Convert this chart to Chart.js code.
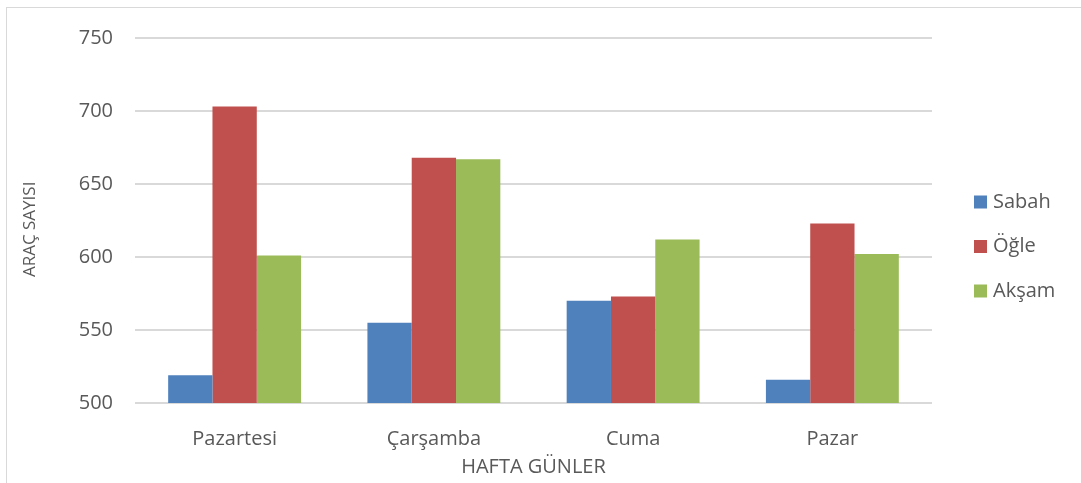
<!DOCTYPE html>
<html>
<head>
<meta charset="utf-8">
<script src="https://cdn.jsdelivr.net/npm/chart.js@4/dist/chart.umd.min.js"></script>
<style>
  html, body { margin: 0; padding: 0; background: #fff; }
  #wrap { position: relative; width: 1081px; height: 483px; overflow: hidden; }
  #frame { position: absolute; left: 6px; top: 7px; width: 1100px; height: 500px; border: 1px solid #d9d9d9; box-sizing: border-box; }
  canvas { position: absolute; left: 0; top: 0; }
</style>
</head>
<body>
<div id="wrap">
  <div id="frame"></div>
  <canvas id="c" width="1081" height="483"></canvas>
</div>
<script>
// Günlere göre araç sayıları
const gunler = ['Pazartesi', 'Çarşamba', 'Cuma', 'Pazar'];
const sabah = [519, 555, 570, 516];
const ogle = [703, 668, 573, 623];
const aksam = [601, 667, 612, 602];
const seriAdlari = ['Sabah', 'Öğle', 'Akşam'];
const renkler = ['#4F81BD', '#C0504D', '#9BBB59'];

const FONT = "'Open Sans', 'DejaVu Sans', sans-serif";
const GRI = '#595959';

// Sağ taraftaki açıklama kutusu
const sagLegend = {
  id: 'sagLegend',
  afterDraw(chart) {
    const ctx = chart.ctx;
    const x = 974, y0 = 202, aralik = 44.5;
    ctx.save();
    ctx.font = '20px ' + FONT;
    ctx.textBaseline = 'middle';
    ctx.textAlign = 'left';
    chart.data.datasets.forEach((ds, i) => {
      const y = y0 + i * aralik;
      ctx.fillStyle = ds.backgroundColor;
      ctx.fillRect(x, y - 6.5, 13, 13);
      ctx.fillStyle = GRI;
      ctx.fillText(ds.label, x + 19, y);
    });
    ctx.restore();
  }
};

new Chart(document.getElementById('c'), {
  type: 'bar',
  data: {
    labels: gunler,
    datasets: [
      { label: seriAdlari[0], data: sabah, backgroundColor: renkler[0] },
      { label: seriAdlari[1], data: ogle, backgroundColor: renkler[1] },
      { label: seriAdlari[2], data: aksam, backgroundColor: renkler[2] }
    ]
  },
  options: {
    responsive: false,
    animation: false,
    layout: { padding: { left: 0, top: 38, right: 149, bottom: 0 } },
    datasets: { bar: { categoryPercentage: 0.667, barPercentage: 1.0 } },
    plugins: { legend: { display: false }, tooltip: { enabled: false } },
    scales: {
      x: {
        grid: { display: false },
        border: { display: false },
        ticks: { color: GRI, font: { family: FONT, size: 20 }, padding: 16 },
        title: { display: true, text: 'HAFTA GÜNLER', color: GRI, font: { family: FONT, size: 20 }, padding: { top: 0, bottom: 4 } },
        afterFit(s) { s.height = 80; }
      },
      y: {
        min: 500, max: 750,
        ticks: { stepSize: 50, color: GRI, font: { family: FONT, size: 20 }, padding: 22 },
        grid: { color: '#d9d9d9', lineWidth: 2, drawTicks: false },
        border: { display: false },
        title: { display: true, text: 'ARAÇ SAYISI    ', color: GRI, font: { family: FONT, size: 17 }, padding: { top: 20, bottom: 0 } },
        afterFit(s) { s.width = 135; }
      }
    }
  },
  plugins: [sagLegend]
});
</script>
</body>
</html>
